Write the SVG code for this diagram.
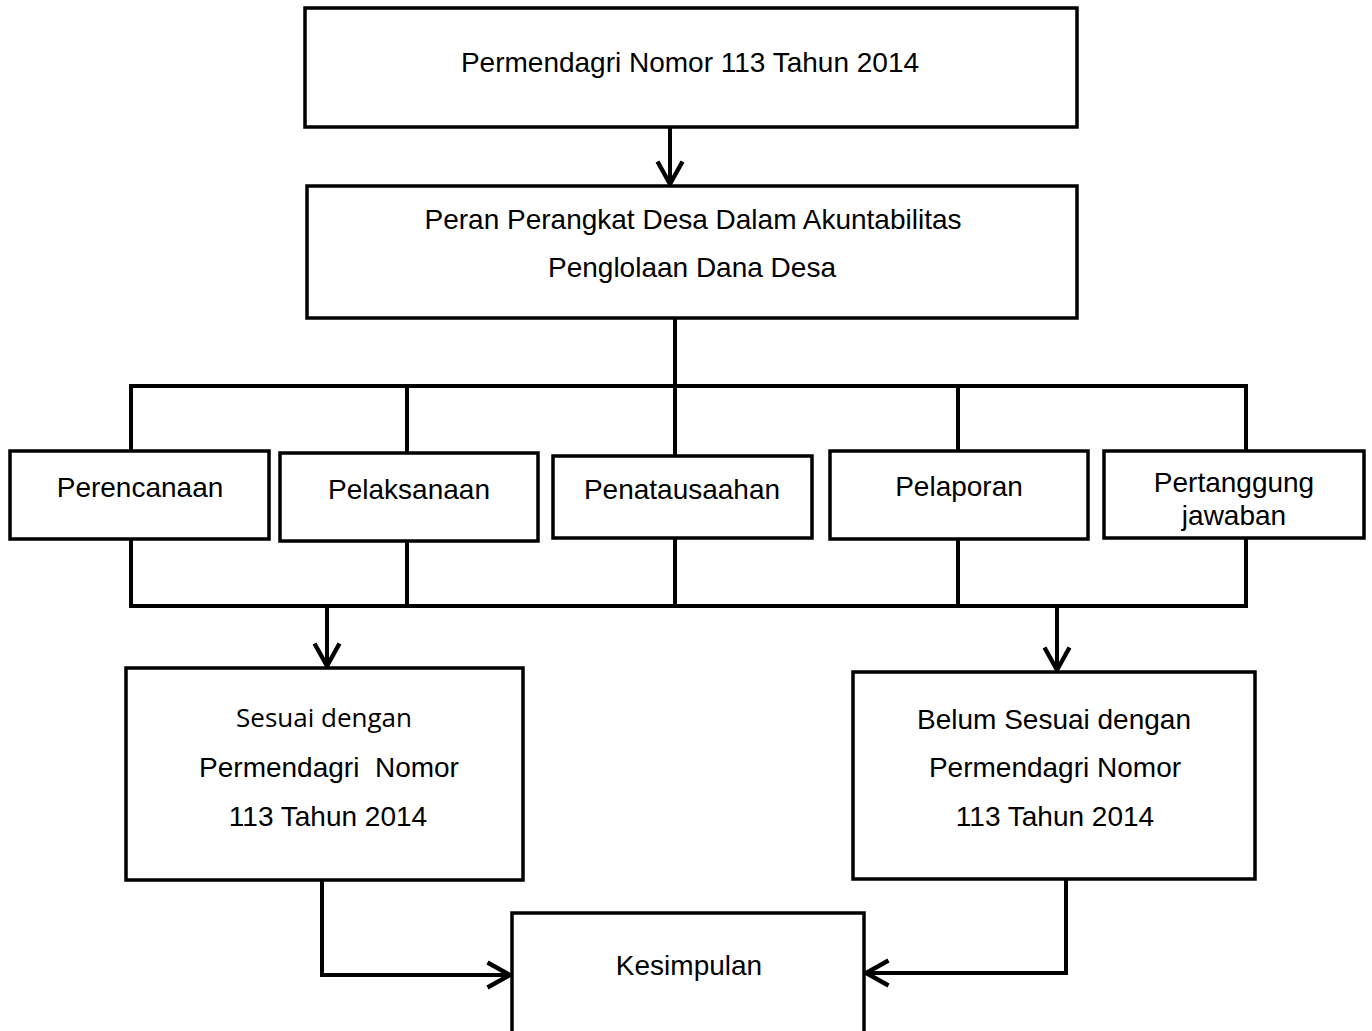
<svg xmlns="http://www.w3.org/2000/svg" width="1372" height="1031" viewBox="0 0 1372 1031">
<style>
.box{fill:#fff;stroke:#000;stroke-width:3.5}
.ln{fill:none;stroke:#000;stroke-width:4}
.t{font-family:"Liberation Sans",Arial,sans-serif;font-size:28px;fill:#000;text-anchor:middle}
.o{font-family:"Open Sans","Noto Sans",sans-serif;font-size:26px;fill:#000;text-anchor:middle}
</style>
<defs>
<marker id="ah" markerWidth="30" markerHeight="30" viewBox="-20 -12 22 24" refX="0" refY="0" orient="auto" markerUnits="userSpaceOnUse">
<path d="M-18,-10 L0,0 L-18,10" fill="none" stroke="#000" stroke-width="3.5"/>
</marker>
</defs>
<rect width="1372" height="1031" fill="#fff"/>
<g id="connectors">
<path class="ln" d="M670,127 V184" marker-end="url(#ah)"/>
<path class="ln" d="M675,318 V386"/>
<path class="ln" d="M131,451 V386 H1246 V451"/>
<path class="ln" d="M407,386 V453"/>
<path class="ln" d="M675,386 V456"/>
<path class="ln" d="M958,386 V451"/>
<path class="ln" d="M131,539 V606 H1246 V538"/>
<path class="ln" d="M407,541 V606"/>
<path class="ln" d="M675,538 V606"/>
<path class="ln" d="M958,539 V606"/>
<path class="ln" d="M327,606 V666" marker-end="url(#ah)"/>
<path class="ln" d="M1057,606 V670" marker-end="url(#ah)"/>
<path class="ln" d="M322,880 V975 H510" marker-end="url(#ah)"/>
<path class="ln" d="M1066,879 V973 H866" marker-end="url(#ah)"/>
</g>
<g id="n1"><rect class="box" x="305" y="8" width="772" height="119"/><text class="t" x="690" y="72">Permendagri Nomor 113 Tahun 2014</text></g>
<g id="n2"><rect class="box" x="307" y="186" width="770" height="132"/><text class="t" x="693" y="229">Peran Perangkat Desa Dalam Akuntabilitas</text><text class="t" x="692" y="277">Penglolaan Dana Desa</text></g>
<g id="n3"><rect class="box" x="10" y="451" width="259" height="88"/><text class="t" x="140" y="497">Perencanaan</text></g>
<g id="n4"><rect class="box" x="280" y="453" width="258" height="88"/><text class="t" x="409" y="499">Pelaksanaan</text></g>
<g id="n5"><rect class="box" x="553" y="456" width="259" height="82"/><text class="t" x="682" y="499">Penatausaahan</text></g>
<g id="n6"><rect class="box" x="830" y="451" width="258" height="88"/><text class="t" x="959" y="496">Pelaporan</text></g>
<g id="n7"><rect class="box" x="1104" y="451" width="260" height="87"/><text class="t" x="1234" y="492">Pertanggung</text><text class="t" x="1234" y="525">jawaban</text></g>
<g id="n8"><rect class="box" x="126" y="668" width="397" height="212"/><text class="o" x="324" y="727">Sesuai dengan</text><text class="t" x="329" y="777" xml:space="preserve">Permendagri  Nomor</text><text class="t" x="328" y="826">113 Tahun 2014</text></g>
<g id="n9"><rect class="box" x="853" y="672" width="402" height="207"/><text class="t" x="1054" y="729">Belum Sesuai dengan</text><text class="t" x="1055" y="777">Permendagri Nomor</text><text class="t" x="1055" y="826">113 Tahun 2014</text></g>
<g id="n10"><rect class="box" x="512" y="913" width="352" height="130"/><text class="t" x="689" y="975">Kesimpulan</text></g>
</svg>
